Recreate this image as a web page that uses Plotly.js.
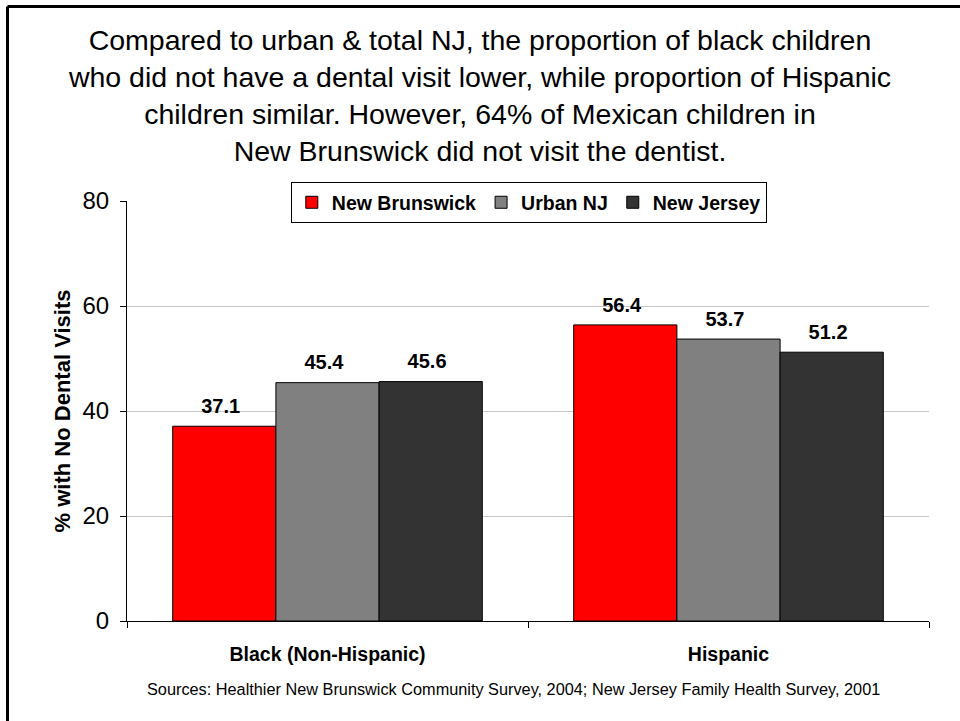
<!DOCTYPE html>
<html>
<head>
<meta charset="utf-8">
<script src="https://cdn.plot.ly/plotly-3.0.1.min.js"></script>
<style>html,body{margin:0;padding:0;background:#fff;}#chart{width:960px;height:721px;}</style>
</head>
<body>
<div id="chart"></div>
<script>
const categories = ["Black (Non-Hispanic)", "Hispanic"];
const seriesNames = ["New Brunswick", "Urban NJ", "New Jersey"];
const newBrunswick = [37.1, 56.4];
const urbanNJ = [45.4, 53.7];
const newJersey = [45.6, 51.2];
const seriesValues = [newBrunswick, urbanNJ, newJersey];
const seriesColors = ["#ff0000", "#808080", "#333333"];
const yTicks = [0, 20, 40, 60, 80];

const FONT = "Liberation Sans, Arial, Helvetica, sans-serif";

const traces = seriesValues.map((vals, i) => ({
  type: "bar",
  name: seriesNames[i],
  x: categories,
  y: vals,
  marker: {color: seriesColors[i], line: {color: "#000", width: 1}},
  text: vals.map(v => v.toFixed(1)),
  texttemplate: '%{text}<sub><span style="font-size:26px">\u00a0</span></sub>',
  textposition: "outside",
  textfont: {family: FONT, size: 20, color: "#000", weight: "bold"},
  cliponaxis: false,
  hoverinfo: "none"
}));

const layout = {
  width: 960, height: 721,
  margin: {l: 127, r: 31, t: 201, b: 100},
  paper_bgcolor: "#fff", plot_bgcolor: "#fff",
  font: {family: FONT, color: "#000"},
  barmode: "group",
  bargap: 0.228,
  bargroupgap: 0,
  showlegend: true,
  title: {
    text: "Compared to urban &amp; total NJ, the proportion of black children<br>who did not have a dental visit lower, while proportion of Hispanic<br>children similar. However, 64% of Mexican children in<br>New Brunswick did not visit the dentist.",
    font: {family: FONT, size: 28.5, color: "#000"},
    x: 0.5, xanchor: "center", xref: "container",
    y: 1 - 50/721, yanchor: "top", yref: "container"
  },
  legend: {
    orientation: "h",
    x: 0.501, xanchor: "center",
    y: 1.045, yanchor: "top",
    bgcolor: "#fff", bordercolor: "#000", borderwidth: 1,
    font: {family: FONT, size: 19.5, color: "#000", weight: "bold"},
    itemwidth: 30, tracegroupgap: 0
  },
  xaxis: {
    type: "category",
    showline: true, linecolor: "#000", linewidth: 1,
    ticks: "outside", tickson: "boundaries", ticklen: 6, tickcolor: "#000",
    tickfont: {family: FONT, size: 19.5, color: "#000", weight: "bold"},
    ticklabelstandoff: 16,
    showgrid: false, zeroline: false,
    fixedrange: true
  },
  yaxis: {
    range: [0, 80],
    tickvals: yTicks,
    ticktext: yTicks.map(String),
    showline: true, linecolor: "#000", linewidth: 1,
    ticks: "outside", ticklen: 6, tickcolor: "#000",
    tickfont: {family: FONT, size: 24, color: "#000"},
    ticklabelstandoff: 6,
    showgrid: true, gridcolor: "#c8c8c8", gridwidth: 1,
    zeroline: false,
    title: {text: "% with No Dental Visits", font: {family: FONT, size: 22, color: "#000", weight: "bold"}, standoff: 5},
    fixedrange: true
  },
  annotations: [{
    text: "Sources: Healthier New Brunswick Community Survey, 2004; New Jersey Family Health Survey, 2001",
    xref: "paper", yref: "paper", x: 0.4825, y: -0.162,
    xanchor: "center", yanchor: "middle", showarrow: false,
    font: {family: FONT, size: 16.3, color: "#000"}
  }],
  shapes: [
    {type: "line", xref: "paper", yref: "paper", x0: -0.149, x1: 1.2, y0: 1.463, y1: 1.463, line: {color: "#000", width: 3}},
    {type: "line", xref: "paper", yref: "paper", x0: -0.149, x1: -0.149, y0: 1.463, y1: -0.5, line: {color: "#000", width: 3}}
  ]
};

Plotly.newPlot("chart", traces, layout, {displayModeBar: false, staticPlot: true});
</script>
</body>
</html>
